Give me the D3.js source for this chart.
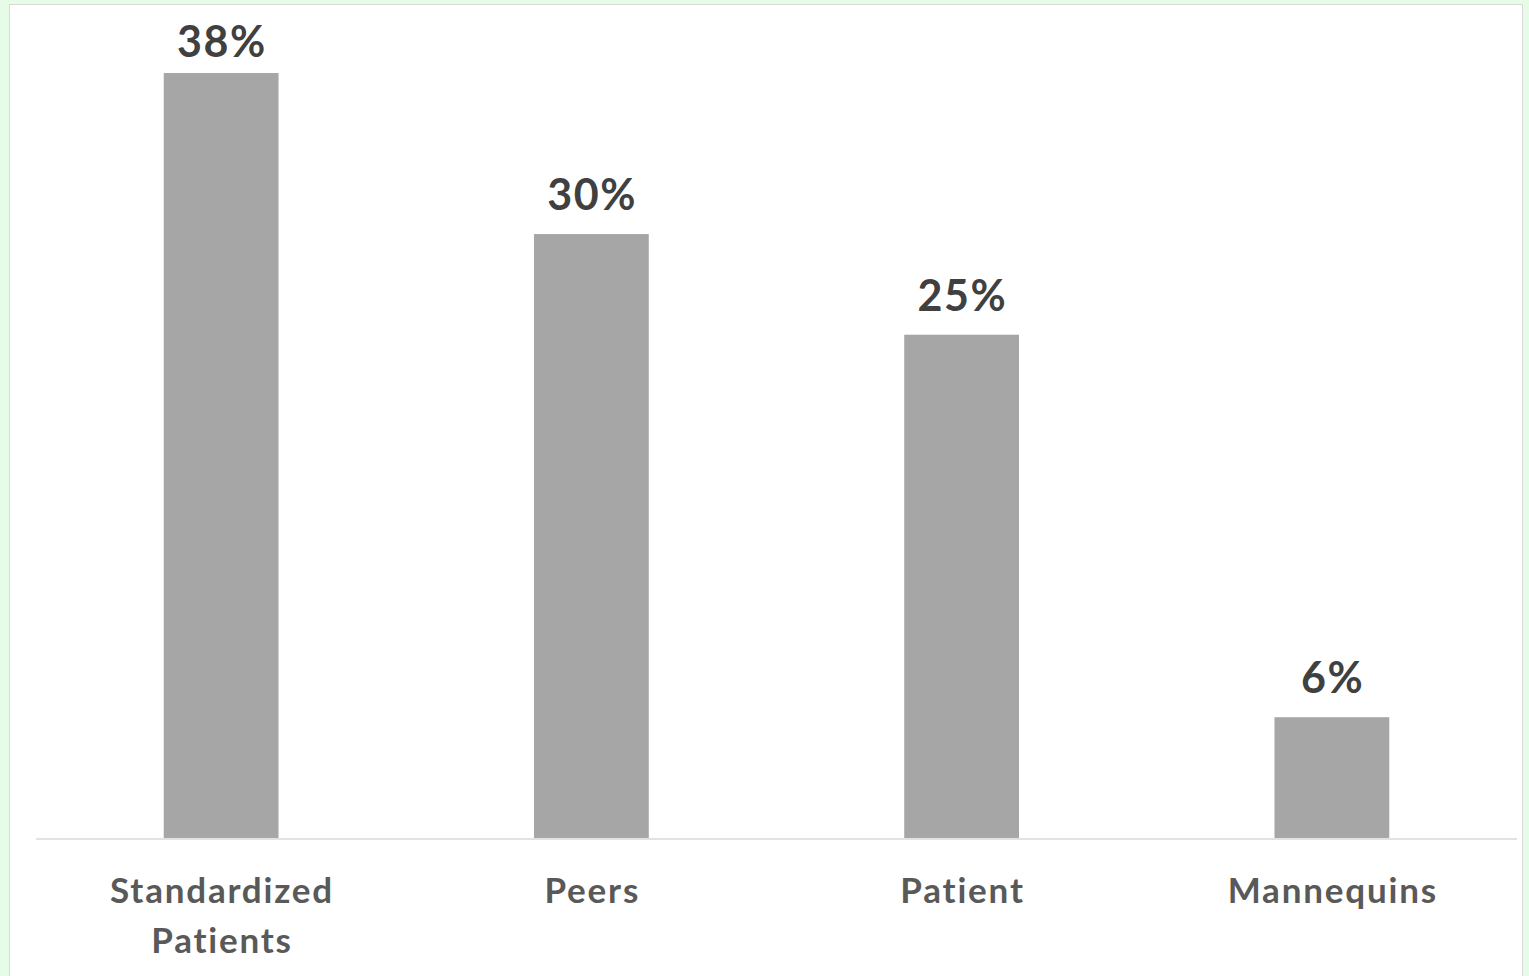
<!DOCTYPE html>
<html>
<head>
<meta charset="utf-8">
<script src="https://cdn.jsdelivr.net/npm/d3@7"></script>
<style>
  html, body { margin: 0; padding: 0; background: #e6fce6; }
  svg { display: block; }
</style>
</head>
<body>
<svg id="chart" width="1529" height="976"></svg>
<script>
// Share of respondents by practice partner
const categories = [["Standardized", "Patients"], ["Peers"], ["Patient"], ["Mannequins"]];
const values = [38, 30, 25, 6];
const valueLabels = ["38%", "30%", "25%", "6%"];

const W = 1529, H = 976;
const svg = d3.select("#chart");

// white chart area with thin grey frame
svg.append("rect")
  .attr("x", 9.5).attr("y", 4.5)
  .attr("width", 1513).attr("height", 990)
  .attr("fill", "#ffffff")
  .attr("stroke", "#d9d9d9").attr("stroke-width", 1);

const plot = { left: 36, right: 1517, top: 73, bottom: 838 };

const x = d3.scaleBand()
  .domain(d3.range(values.length))
  .range([plot.left, plot.right])
  .paddingInner(0.69)
  .paddingOuter(0.345);

const y = d3.scaleLinear()
  .domain([0, 38])
  .range([plot.bottom, plot.top]);

const font = "Lato, 'Open Sans', sans-serif";

// bars
svg.append("g").selectAll("rect")
  .data(values)
  .join("rect")
  .attr("x", (d, i) => x(i))
  .attr("y", d => y(d))
  .attr("width", x.bandwidth())
  .attr("height", d => y(0) - y(d))
  .attr("fill", "#a6a6a6");

// baseline
svg.append("line")
  .attr("x1", plot.left).attr("x2", plot.right)
  .attr("y1", plot.bottom + 1).attr("y2", plot.bottom + 1)
  .attr("stroke", "#d9d9d9").attr("stroke-width", 1.5);

// value labels above bars (kept inside the frame)
svg.append("g").selectAll("text")
  .data(values)
  .join("text")
  .attr("x", (d, i) => x(i) + x.bandwidth() / 2 + 0.8)
  .attr("y", d => Math.max(y(d) - 24, 57))
  .attr("text-anchor", "middle")
  .attr("font-family", font)
  .attr("font-weight", "bold")
  .attr("font-size", 43)
  .attr("letter-spacing", 1.6)
  .attr("fill", "#404040")
  .text((d, i) => valueLabels[i]);

// category labels
const cat = svg.append("g").selectAll("text")
  .data(categories)
  .join("text")
  .attr("y", 903)
  .attr("text-anchor", "middle")
  .attr("font-family", font)
  .attr("font-weight", "bold")
  .attr("font-size", 35)
  .attr("letter-spacing", 1.8)
  .attr("fill", "#595959");

cat.selectAll("tspan")
  .data((d, i) => d.map(t => ({ t, i })))
  .join("tspan")
  .attr("x", d => x(d.i) + x.bandwidth() / 2 + 0.9)
  .attr("dy", (d, j) => j === 0 ? 0 : 50)
  .text(d => d.t);
</script>
</body>
</html>
